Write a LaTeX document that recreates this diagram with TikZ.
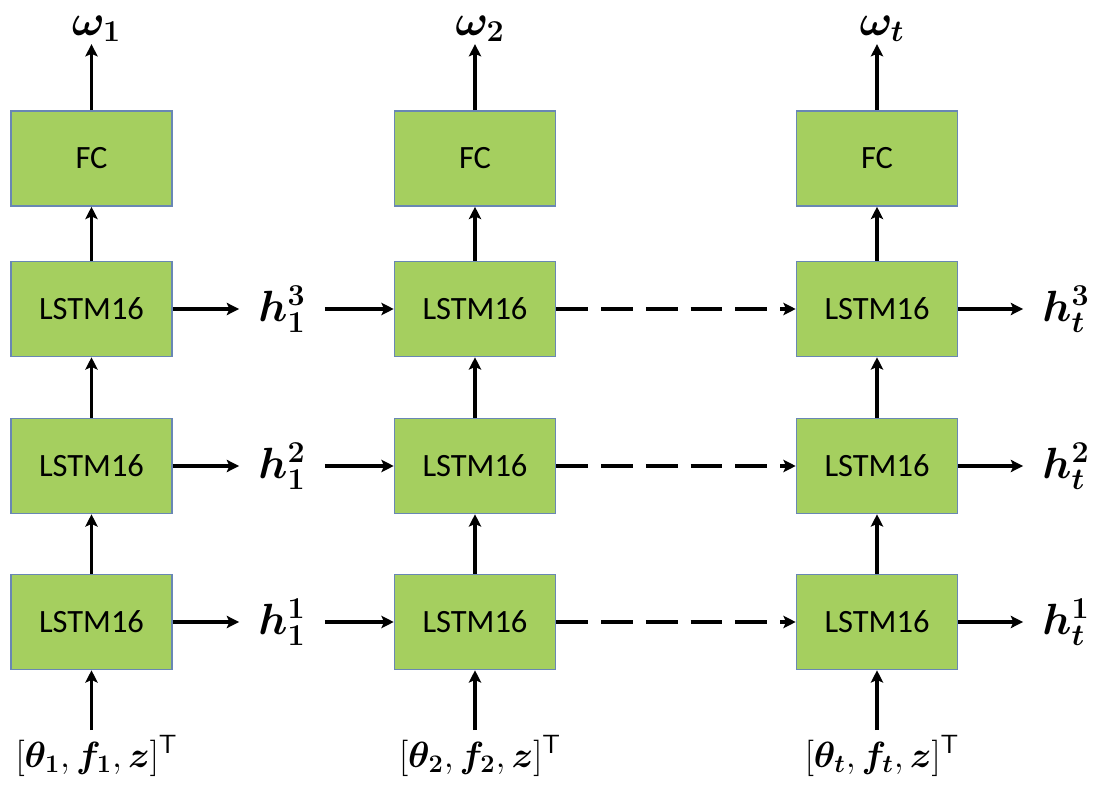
\documentclass[tikz,border=0pt]{standalone}
\usepackage{amsmath}
\usepackage{bm}
\usepackage{fontspec}
\setmainfont{Carlito}
\usetikzlibrary{arrows.meta}

\begin{document}
\begin{tikzpicture}[x=0.02cm, y=-0.02cm,
    %Option for nice arrows
    >={Stealth[length=7pt, width=7pt, inset=1.5pt]}, %
    block/.style={draw=boxedge, fill=boxfill, line width=0.9pt, inner sep=0pt,
        minimum width=3.22cm, minimum height=1.9cm, font=\fontsize{18.5}{22}\selectfont},
    lbl/.style={font=\fontsize{23}{27}\selectfont, inner sep=1pt},
    inlbl/.style={font=\fontsize{21.5}{26}\selectfont, inner sep=3pt},
    hlbl/.style={lbl, inner xsep=0.38cm},
    flow/.style={line width=1.8pt,->},
    skip/.style={line width=1.8pt,->, dash pattern=on 18pt off 7.5pt},
]
    % Colors
    \definecolor{boxfill}{RGB}{165,207,95}
    \definecolor{boxedge}{RGB}{105,135,180}

    \useasboundingbox (0,0) rectangle (1100,787);

    % Columns: FC on top of three LSTM layers
    \foreach \c/\x/\i in {1/91.5/1, 2/475/2, 3/877/t}{
        \node[block] (fc\c)     at (\x,158.5) {FC};
        \node[block] (lstm\c-3) at (\x,309)   {LSTM16};
        \node[block] (lstm\c-2) at (\x,466)   {LSTM16};
        \node[block] (lstm\c-1) at (\x,622)   {LSTM16};

        \node[lbl]   (out\c) at (\x+5,29)  {$\bm{\omega_{\i}}$};
        \node[inlbl] (in\c)  at (\x+5,756) {$[\bm{\theta_{\i}},\bm{f_{\i}},\bm{z}]^{\mathsf{T}}$};

        \draw[flow] (in\c.north -| lstm\c-1) -- (lstm\c-1);
        \draw[flow] (lstm\c-1) -- (lstm\c-2);
        \draw[flow] (lstm\c-2) -- (lstm\c-3);
        \draw[flow] (lstm\c-3) -- (fc\c);
        \draw[flow] (fc\c)     -- (out\c.south -| fc\c);
    }

    % Hidden states passed along the layers
    \foreach \r/\y in {1/622, 2/466, 3/309}{
        \node[hlbl] (h1-\r) at (282,\y)  {$\bm{h_{1}^{\r}}$};
        \node[hlbl] (ht-\r) at (1066,\y) {$\bm{h_{t}^{\r}}$};

        \draw[flow] (lstm1-\r) -- (h1-\r);
        \draw[flow] (h1-\r)    -- (lstm2-\r);
        \draw[skip] (lstm2-\r) -- (lstm3-\r);
        \draw[flow] (lstm3-\r) -- (ht-\r);
    }
\end{tikzpicture}
\end{document}
